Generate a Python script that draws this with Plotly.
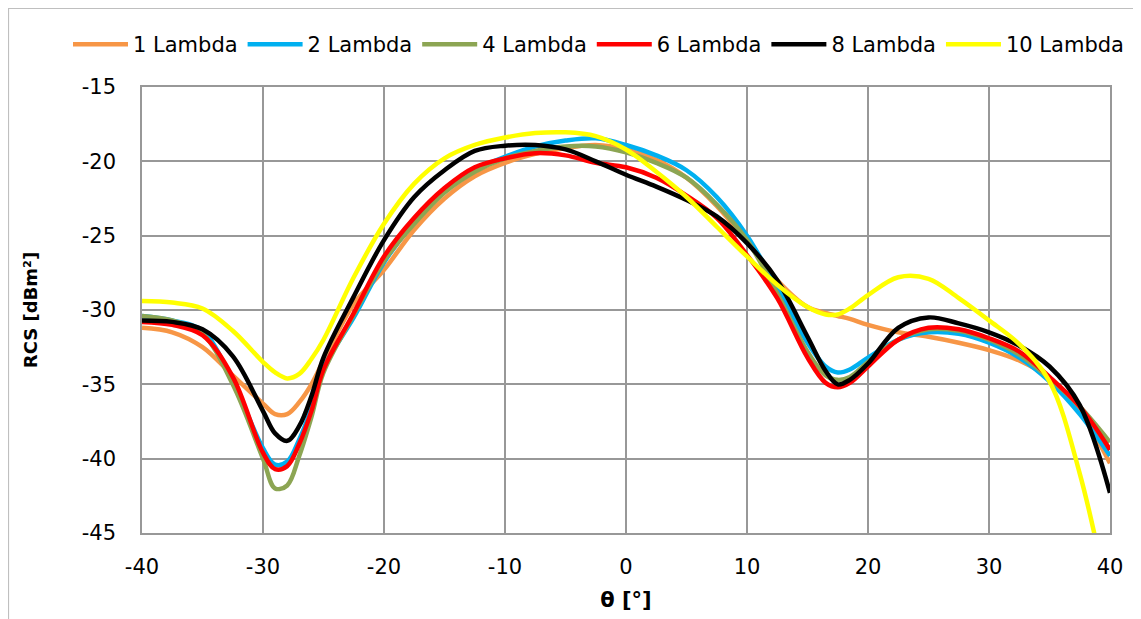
import plotly.graph_objects as go

theta = [-40, -37.5, -35, -32.5, -30, -29, -28, -27, -26, -25, -22.5, -20, -17.5, -15, -12.5,
         -10, -7.5, -5, -2.5, 0, 2.5, 5, 7.5, 10, 12.5, 15, 16.5, 17.5, 18.5, 20, 22.5, 25,
         27.5, 30, 32.5, 35, 37.5, 40]

lambda_1 = [-31.2, -31.5, -32.5, -34.4, -36.3, -37.0, -37.0, -36.2, -35.0, -33.4, -29.6, -27.3,
            -24.6, -22.5, -21.0, -20.1, -19.5, -19.1, -18.9, -19.2, -19.9, -21.1, -23.0, -25.4,
            -28.0, -29.8, -30.2, -30.4, -30.6, -31.0, -31.5, -31.8, -32.2, -32.7, -33.4, -34.6,
            -36.8, -40.3]
lambda_2 = [-30.4, -30.7, -31.4, -34.8, -39.3, -40.4, -40.2, -38.7, -36.6, -33.9, -30.5, -26.8,
            -24.1, -22.0, -20.6, -19.7, -19.0, -18.6, -18.45, -18.9, -19.6, -20.6, -22.4, -25.0,
            -28.5, -32.2, -33.8, -34.2, -34.0, -33.2, -32.0, -31.5, -31.6, -32.2, -33.2, -34.8,
            -37.0, -39.8]
lambda_4 = [-30.4, -30.7, -31.6, -35.0, -40.0, -42.0, -41.8, -39.8, -37.2, -34.2, -30.3, -26.7,
            -24.2, -22.1, -20.7, -19.8, -19.3, -19.0, -19.0, -19.4, -20.1, -21.1, -22.9, -25.3,
            -28.9, -32.8, -34.4, -34.7, -34.5, -33.5, -32.0, -31.3, -31.4, -32.0, -33.0, -34.6,
            -36.5, -38.9]
lambda_6 = [-30.8, -31.0, -31.7, -34.5, -39.6, -40.7, -40.5, -39.0, -36.8, -34.0, -30.2, -26.4,
            -23.8, -21.8, -20.4, -19.8, -19.45, -19.6, -20.1, -20.4, -21.1, -22.3, -23.8, -26.3,
            -29.2, -33.2, -34.9, -35.2, -34.9, -33.8, -32.0, -31.2, -31.3, -31.9, -32.8, -34.5,
            -36.5, -39.4]
lambda_8 = [-30.7, -30.8, -31.3, -33.1, -36.8, -38.3, -38.8, -37.8, -35.8, -33.2, -29.1, -25.3,
            -22.4, -20.6, -19.3, -18.95, -18.9, -19.2, -20.0, -20.9, -21.7, -22.6, -23.7, -25.5,
            -28.0, -31.8, -34.1, -35.0, -34.7, -33.6, -31.2, -30.5, -30.9, -31.5, -32.4, -33.8,
            -36.4, -42.3]
lambda_10 = [-29.4, -29.5, -29.9, -31.4, -33.5, -34.2, -34.6, -34.3, -33.3, -32.0, -27.8, -24.2,
             -21.5, -19.8, -18.9, -18.4, -18.1, -18.05, -18.3, -19.2, -20.7, -22.4, -24.4, -26.4,
             -28.3, -29.8, -30.3, -30.3, -29.9, -29.0, -27.8, -27.9, -29.2, -30.7, -32.3, -34.8,
             -41.0, -50.0]

series_names = ["1 Lambda", "2 Lambda", "4 Lambda", "6 Lambda", "8 Lambda", "10 Lambda"]
series_values = [lambda_1, lambda_2, lambda_4, lambda_6, lambda_8, lambda_10]
series_colors = ["#F79646", "#00B0F0", "#8CA553", "#FF0000", "#000000", "#FFFF00"]

x_ticks = [-40, -30, -20, -10, 0, 10, 20, 30, 40]
y_ticks = [-45, -40, -35, -30, -25, -20, -15]

fig = go.Figure()
for name, vals, col in zip(series_names, series_values, series_colors):
    fig.add_trace(go.Scatter(
        x=theta, y=vals, name=name, mode="lines",
        line=dict(color=col, width=4.5, shape="spline", smoothing=1.0),
    ))

grid_col = "#989898"
# page body has an 8px margin, so the figure is drawn 8px smaller
W, H = 1133, 611
L, R, T, B = 134, 31, 79, 86
pw, ph = W - L - R, H - T - B

fig.update_layout(
    width=W, height=H,
    margin=dict(l=L, r=R, t=T, b=B, autoexpand=False),
    paper_bgcolor="white", plot_bgcolor="white",
    font=dict(family="DejaVu Sans", size=21, color="black"),
    showlegend=True,
    legend=dict(
        orientation="h", x=(60 - L) / pw, xanchor="left",
        y=(H - B - 16) / ph, yanchor="top",
        itemwidth=55, font=dict(size=21),
        bgcolor="rgba(0,0,0,0)", traceorder="normal",
    ),
    xaxis=dict(
        range=[-40, 40], tickvals=x_ticks, ticktext=[str(v) for v in x_ticks],
        showgrid=True, gridcolor=grid_col, gridwidth=1.5,
        zeroline=False, showline=True, linecolor=grid_col, linewidth=1.5, mirror=True,
        ticks="", ticklabelstandoff=14,
        title=dict(text="<b>θ [°]</b>", font=dict(size=21), standoff=14),
    ),
    yaxis=dict(
        range=[-45, -15], tickvals=y_ticks, ticktext=[str(v) for v in y_ticks],
        showgrid=True, gridcolor=grid_col, gridwidth=1.5,
        zeroline=False, showline=True, linecolor=grid_col, linewidth=1.5, mirror=True,
        ticks="", ticklabelstandoff=20,
        title=dict(text="<b>RCS [dBm²]</b>", font=dict(size=18), standoff=39),
    ),
)

fig.add_shape(
    type="rect", xref="paper", yref="paper",
    x0=(0.5 - L) / pw, x1=(1127 - L) / pw,
    y0=(H - B - 640) / ph, y1=(H - B - 0.5) / ph,
    line=dict(color="#BFBFBF", width=1.2), fillcolor="rgba(0,0,0,0)", layer="below",
)

fig.write_html("out.html")
